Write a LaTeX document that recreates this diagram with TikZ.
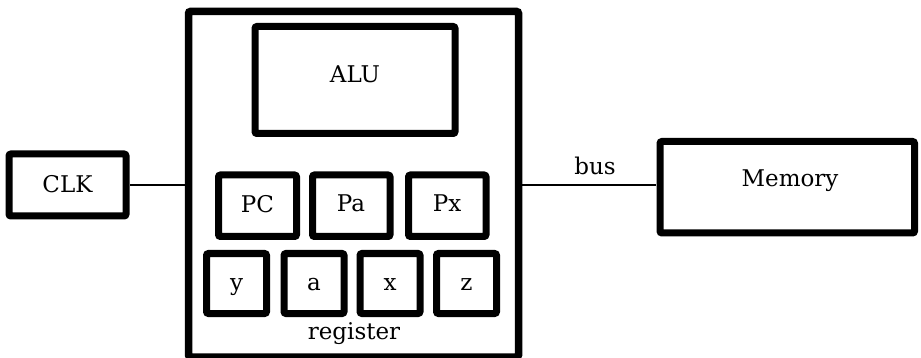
\documentclass[tikz,border=0pt]{standalone}
\usepackage{fontspec}
\setmainfont{DejaVu Serif}
\begin{document}
\begin{tikzpicture}[x=1pt,y=-1pt,
  block/.style={draw,line width=7pt,rounded corners=2pt,fill=white},
  wire/.style={draw,line width=1.6pt},
  lbl/.style={font=\fontsize{23}{27}\selectfont,anchor=base,inner sep=0pt}]
\useasboundingbox (0,0) rectangle (921,358);
\begin{scope}
\clip (0,0) rectangle (921,358);
% processor frame, its lower edge cut by the page
\path[block,line width=7.5pt] (188.5,11.5) rectangle (518.5,357);
\end{scope}
\coordinate (cpuW) at (185,185);
\coordinate (cpuE) at (522,185);
% arithmetic unit
\path[block] (255,26.5) rectangle (455,133.5);
\node[lbl] (alu) at (355,83) {ALU};
% upper register row
\path[block] (218.5,175) rectangle (296.5,236.5);
\node[lbl] (pc) at (257.5,213) {PC};
\path[block] (312.5,175) rectangle (390,236.5);
\node[lbl] (pa) at (351,212) {Pa};
\path[block] (408.5,175) rectangle (486,236.5);
\node[lbl] (px) at (447,212) {Px};
% lower register row
\path[block] (206.5,253.5) rectangle (266.5,313.5);
\node[lbl] (ry) at (236.5,290) {y};
\path[block] (284,253.5) rectangle (344,313.5);
\node[lbl] (ra) at (314,290) {a};
\path[block] (360,253.5) rectangle (420,313.5);
\node[lbl] (rx) at (390,290) {x};
\path[block] (436.5,253.5) rectangle (496.5,313.5);
\node[lbl] (rz) at (466.5,290) {z};
\node[lbl] (reg) at (354,339) {register};
% clock
\path[block] (9,154) rectangle (126,216);
\node[lbl] (clk) at (67.5,193) {CLK};
\coordinate (clkE) at (130,185);
% memory
\path[block] (660,141.5) rectangle (914.5,233);
\node[lbl] (mem) at (790,187) {Memory};
\coordinate (memW) at (656,185);
% connections
\draw[wire] (clkE) -- (cpuW);
\draw[wire] (cpuE) -- (memW);
\node[lbl] (bus) at (595,175) {bus};
\end{tikzpicture}
\end{document}
